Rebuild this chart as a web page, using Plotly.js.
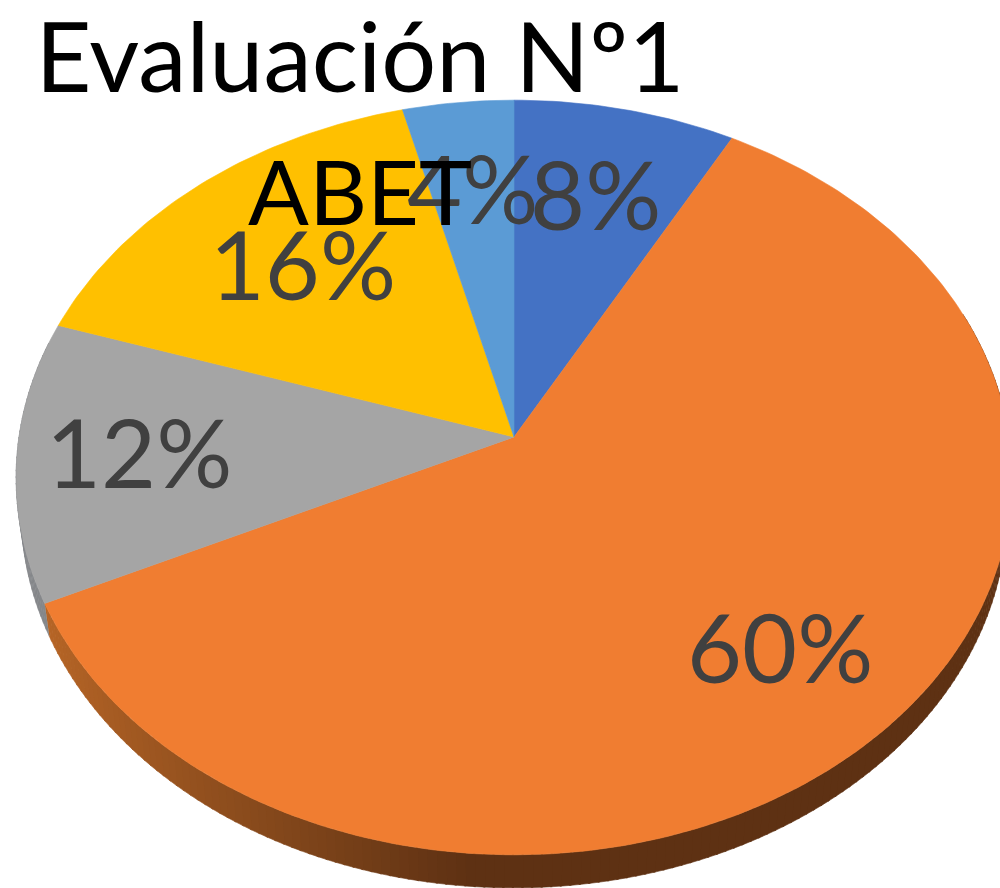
<!DOCTYPE html>
<html><head><meta charset="utf-8">
<script src="https://cdn.plot.ly/plotly-3.0.1.min.js"></script>
<style>html,body{margin:0;padding:0;background:#fff;overflow:hidden}#c{width:1000px;height:888px}</style>
</head><body><div id="c"></div>
<script>
var titleLine = 'Evaluación Nº1';
var subtitleLine = 'ABET';
var sliceNames = ['Categoría 1','Categoría 2','Categoría 3','Categoría 4','Categoría 5'];
var sliceValues = [8, 60, 12, 16, 4];
var sliceColors = ['#4472C4','#F07D31','#A5A5A5','#FFC000','#5B9BD5'];
var labelRadii = [0.713, 0.74, 0.755, 0.655, 0.716];

// Tilted-disc projection
var cx = 514, cy = 437, rx = 495, ry = 373, persp = 0.1073, depth = 33, wallShrink = 0.99, labelNudge = 9;
function proj(deg, r){
  var t = deg*Math.PI/180, u = r*Math.sin(t), v = r*Math.cos(t), d = 1 + persp*v;
  return [cx + rx*u/d, cy - ry*v/d];
}
var total = sliceValues.reduce(function(a,b){return a+b;},0);
var starts = [], acc = 0;
sliceValues.forEach(function(v){ starts.push(acc/total*360); acc += v; });
function endOf(i){ return starts[i] + sliceValues[i]/total*360; }

function lerpWall(x){
  var t = Math.max(0, Math.min(1, (x-46)/(470-46)));
  t = Math.pow(t, 0.9);
  var a=[182,101,38], b=[94,49,19];
  return 'rgb('+a.map(function(c,k){return Math.round(c+(b[k]-c)*t);}).join(',')+')';
}
var traces = [];
function poly(xs, ys, color){
  traces.push({type:'scatter',mode:'lines',x:xs,y:ys,fill:'toself',fillcolor:color,
    line:{width:0.6,color:color},hoverinfo:'skip',showlegend:false});
}
// side wall of the disc
function shrunk(x){ return cx + (x-cx)*wallShrink; }
function wall(a0, a1, colorFn){
  for (var d=a0; d<a1; d+=1){
    var p=proj(d,1), q=proj(Math.min(d+1.2,a1),1);
    poly([p[0],q[0],shrunk(q[0]),shrunk(p[0])],[p[1],q[1],q[1]+depth,p[1]+depth],colorFn((p[0]+q[0])/2));
  }
}
wall(70, endOf(1), lerpWall);
wall(endOf(1), 285, function(){return '#85878A';});
// top faces
sliceValues.forEach(function(v,i){
  var xs=[cx], ys=[cy], a0=starts[i], a1=endOf(i);
  for (var d=a0; d<a1; d+=1){ var p=proj(d,1); xs.push(p[0]); ys.push(p[1]); }
  var e=proj(a1,1); xs.push(e[0],cx); ys.push(e[1],cy);
  poly(xs, ys, sliceColors[i]);
});
// percentage labels
var lx=[], ly=[], lt=[];
sliceValues.forEach(function(v,i){
  var p=proj((starts[i]+endOf(i))/2, labelRadii[i]);
  lx.push(p[0]); ly.push(p[1]+labelNudge); lt.push(Math.round(v/total*100)+'%');
});
traces.push({type:'scatter',mode:'text',x:lx,y:ly,text:lt,textposition:'middle center',
  textfont:{family:'Lato, sans-serif',size:95,color:'#404040'},hoverinfo:'skip',showlegend:false,cliponaxis:false});

var layout = {
  width:1000,height:888,margin:{l:0,r:0,t:0,b:0},
  paper_bgcolor:'#fff',plot_bgcolor:'#fff',showlegend:false,
  title:{text:titleLine,x:0.36,xanchor:'center',xref:'paper',y:1-58/888,yref:'paper',yanchor:'middle',
    font:{family:'Lato, sans-serif',size:97,color:'#000'}},
  xaxis:{range:[0,1000],visible:false,fixedrange:true},
  yaxis:{range:[888,0],visible:false,fixedrange:true},
  annotations:[{text:subtitleLine,xref:'paper',yref:'paper',x:0.36,y:1-190/888,xanchor:'center',yanchor:'middle',
    showarrow:false,font:{family:'Lato, sans-serif',size:90,color:'#000'}}]
};
Plotly.newPlot('c',traces,layout,{displayModeBar:false,staticPlot:true});
</script></body></html>
